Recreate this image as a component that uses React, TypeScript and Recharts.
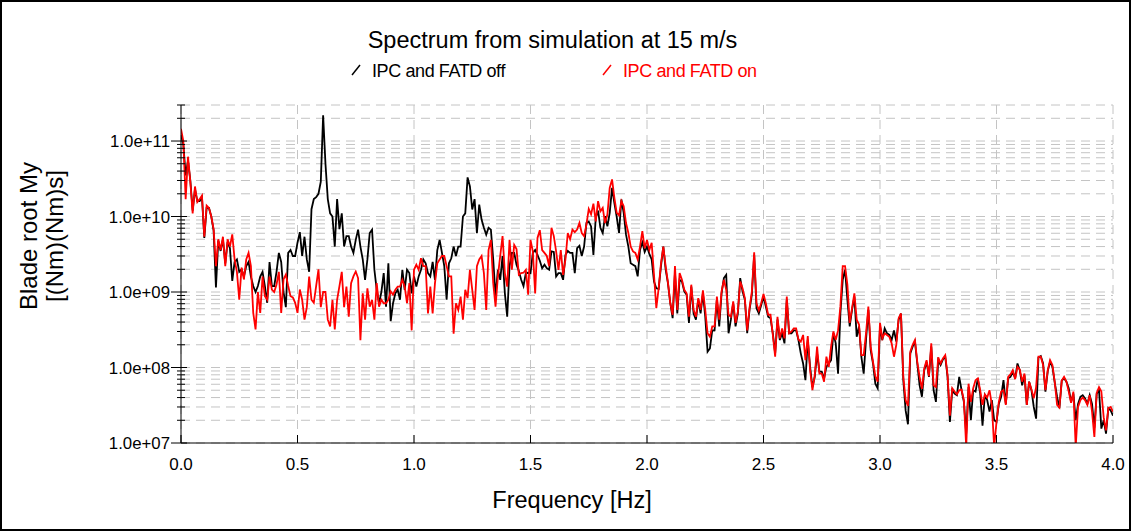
import React from "react";
import { LineChart, Line, XAxis, YAxis, CartesianGrid } from "recharts";

const FREQ_HZ = [
  0, 0.01, 0.02, 0.03, 0.04, 0.05, 0.06, 0.07, 0.08, 0.09, 0.1, 0.11, 0.12, 0.13, 0.14, 0.15, 0.16, 0.17, 0.18, 0.19,
  0.2, 0.21, 0.22, 0.23, 0.24, 0.25, 0.26, 0.27, 0.28, 0.29, 0.3, 0.31, 0.32, 0.33, 0.34, 0.35, 0.36, 0.37, 0.38, 0.39,
  0.4, 0.41, 0.42, 0.43, 0.44, 0.45, 0.46, 0.47, 0.48, 0.49, 0.5, 0.51, 0.52, 0.53, 0.54, 0.55, 0.56, 0.57, 0.58, 0.59,
  0.6, 0.61, 0.62, 0.63, 0.64, 0.65, 0.66, 0.67, 0.68, 0.69, 0.7, 0.71, 0.72, 0.73, 0.74, 0.75, 0.76, 0.77, 0.78, 0.79,
  0.8, 0.81, 0.82, 0.83, 0.84, 0.85, 0.86, 0.87, 0.88, 0.89, 0.9, 0.91, 0.92, 0.93, 0.94, 0.95, 0.96, 0.97, 0.98, 0.99,
  1, 1.01, 1.02, 1.03, 1.04, 1.05, 1.06, 1.07, 1.08, 1.09, 1.1, 1.11, 1.12, 1.13, 1.14, 1.15, 1.16, 1.17, 1.18, 1.19,
  1.2, 1.21, 1.22, 1.23, 1.24, 1.25, 1.26, 1.27, 1.28, 1.29, 1.3, 1.31, 1.32, 1.33, 1.34, 1.35, 1.36, 1.37, 1.38, 1.39,
  1.4, 1.41, 1.42, 1.43, 1.44, 1.45, 1.46, 1.47, 1.48, 1.49, 1.5, 1.51, 1.52, 1.53, 1.54, 1.55, 1.56, 1.57, 1.58, 1.59,
  1.6, 1.61, 1.62, 1.63, 1.64, 1.65, 1.66, 1.67, 1.68, 1.69, 1.7, 1.71, 1.72, 1.73, 1.74, 1.75, 1.76, 1.77, 1.78, 1.79,
  1.8, 1.81, 1.82, 1.83, 1.84, 1.85, 1.86, 1.87, 1.88, 1.89, 1.9, 1.91, 1.92, 1.93, 1.94, 1.95, 1.96, 1.97, 1.98, 1.99,
  2, 2.01, 2.02, 2.03, 2.04, 2.05, 2.06, 2.07, 2.08, 2.09, 2.1, 2.11, 2.12, 2.13, 2.14, 2.15, 2.16, 2.17, 2.18, 2.19,
  2.2, 2.21, 2.22, 2.23, 2.24, 2.25, 2.26, 2.27, 2.28, 2.29, 2.3, 2.31, 2.32, 2.33, 2.34, 2.35, 2.36, 2.37, 2.38, 2.39,
  2.4, 2.41, 2.42, 2.43, 2.44, 2.45, 2.46, 2.47, 2.48, 2.49, 2.5, 2.51, 2.52, 2.53, 2.54, 2.55, 2.56, 2.57, 2.58, 2.59,
  2.6, 2.61, 2.62, 2.63, 2.64, 2.65, 2.66, 2.67, 2.68, 2.69, 2.7, 2.71, 2.72, 2.73, 2.74, 2.75, 2.76, 2.77, 2.78, 2.79,
  2.8, 2.81, 2.82, 2.83, 2.84, 2.85, 2.86, 2.87, 2.88, 2.89, 2.9, 2.91, 2.92, 2.93, 2.94, 2.95, 2.96, 2.97, 2.98, 2.99,
  3, 3.01, 3.02, 3.03, 3.04, 3.05, 3.06, 3.07, 3.08, 3.09, 3.1, 3.11, 3.12, 3.13, 3.14, 3.15, 3.16, 3.17, 3.18, 3.19,
  3.2, 3.21, 3.22, 3.23, 3.24, 3.25, 3.26, 3.27, 3.28, 3.29, 3.3, 3.31, 3.32, 3.33, 3.34, 3.35, 3.36, 3.37, 3.38, 3.39,
  3.4, 3.41, 3.42, 3.43, 3.44, 3.45, 3.46, 3.47, 3.48, 3.49, 3.5, 3.51, 3.52, 3.53, 3.54, 3.55, 3.56, 3.57, 3.58, 3.59,
  3.6, 3.61, 3.62, 3.63, 3.64, 3.65, 3.66, 3.67, 3.68, 3.69, 3.7, 3.71, 3.72, 3.73, 3.74, 3.75, 3.76, 3.77, 3.78, 3.79,
  3.8, 3.81, 3.82, 3.83, 3.84, 3.85, 3.86, 3.87, 3.88, 3.89, 3.9, 3.91, 3.92, 3.93, 3.94, 3.95, 3.96, 3.97, 3.98, 3.99,
  4,
];

// IPC and FATD off (black)
const SPEC_OFF = [
  1.2e11, 9e10, 3.5e10, 5.5e10, 3e10, 1.2e10, 2.3e10, 1.6e10, 1.6e10, 1.8e10, 5.2e9,
  1.3e10, 1.3e10, 1.0e10, 6.5e9, 1.15e9, 4.8e9, 3.5e9, 5e9, 2.4e9, 4.6e9,
  3.8e9, 1.4e9, 2.5e9, 2.7e9, 1.85e9, 2e9, 1.6e9, 2.2e9, 2.5e9, 1.6e9,
  1.2e9, 1e9, 1.2e9, 1.6e9, 1.85e9, 1.2e9, 7.2e8, 2.5e9, 1.2e9, 1.2e9,
  1.85e9, 3.3e9, 2.5e9, 1e9, 6.3e8, 3.3e9, 3.6e9, 3e9, 3e9, 4.5e9,
  6.2e9, 3e9, 5.4e9, 2.7e9, 1.85e9, 1.25e10, 1.7e10, 1.8e10, 2e10, 2.9e10,
  2.2e11, 5e10, 1.7e10, 1.1e10, 1e10, 4e9, 1.7e10, 6.8e9, 1.1e10, 4e9,
  5.5e9, 5.5e9, 4.0e9, 3.3e9, 4.9e9, 6.7e9, 4.0e9, 2.7e9, 1.45e9, 2.7e9,
  6.05e9, 6.7e9, 1.97e9, 1.07e9, 7.1e8, 1.0e9, 1.78e9, 6.4e8, 2.4e9, 4.1e8,
  7.1e8, 9.6e8, 1.07e9, 7.9e8, 1.97e9, 1.07e9, 1.97e9, 1.78e9, 9.6e8, 1.61e9,
  1.18e9, 1.61e9, 1.97e9, 2.7e9, 2.4e9, 1.78e9, 1.61e9, 2.5e9, 1.45e9, 3.6e9,
  4.9e9, 3.3e9, 2.2e9, 7.9e8, 2.4e9, 2.8e9, 4.0e9, 3.0e9, 4.0e9, 4.0e9,
  1.0e10, 1.1e10, 3.3e10, 2.5e10, 1.24e10, 1.7e10, 6.0e9, 1.44e10, 9.1e9, 7.1e9,
  5.75e9, 7.1e9, 6.7e9, 2.7e9, 8.7e8, 1.97e9, 1.45e9, 3.0e9, 9.6e8, 4.7e8,
  2.2e9, 3.3e9, 3.3e9, 2.3e9, 1.9e9, 1.45e9, 1.2e9, 1.78e9, 1.8e9, 1.78e9,
  3.3e9, 3.6e9, 3.1e9, 2.6e9, 2.07e9, 2.3e9, 2.07e9, 1.97e9, 3.45e9, 3.4e9,
  1.61e9, 1.78e9, 1.78e9, 1.45e9, 3.1e9, 3.5e9, 3.3e9, 3.3e9, 1.78e9, 3.8e9,
  4.1e9, 3.0e9, 4.0e9, 8.2e9, 8.6e9, 7.4e9, 3.1e9, 9.6e9, 1.2e10, 7.1e9,
  6.05e9, 1.01e10, 7.4e9, 1.12e10, 2.4e10, 1.51e10, 9.9e9, 6.05e9, 1.68e10, 1.12e10,
  5.75e9, 4.0e9, 2.4e9, 2.3e9, 2.2e9, 1.61e9, 3.6e9, 4.55e9, 3.4e9, 4.0e9,
  3.2e9, 2.7e9, 1.38e9, 1.12e9, 1.1e9, 2.2e9, 4.0e9, 2.0e9, 1.3e9, 7.1e8, 4.5e8,
  1.78e9, 5.2e8, 1.45e9, 1.38e9, 1.02e9, 9.2e8, 3.9e8, 1.18e9, 5.2e8,
  4.3e8, 7.9e8, 5.2e8, 9.6e8, 4.7e8, 1.62e8, 1.79e8, 3.1e8, 3.1e8, 7.9e8,
  3.5e8, 9.6e8, 1.53e9, 1.69e9, 2.84e8, 4.3e8, 7.1e8, 3.5e8, 5.2e8, 1.53e9,
  1.02e9, 7.9e8, 2.84e8, 5.8e8, 9.2e8, 3.1e9, 6.1e8, 5.2e8, 6.7e8, 8.7e8,
  6.4e8, 4.7e8, 4.5e8, 2.84e8, 1.54e8, 4.3e8, 2.31e8, 2.84e8, 2.09e8, 7.9e8,
  2.84e8, 2.84e8, 3.1e8, 3.1e8, 2.31e8, 1.54e8, 1.13e8, 6.8e7, 2.31e8, 1.02e8,
  5.5e7, 7.5e7, 1.54e8, 8.8e7, 8.8e7, 7.2e7, 1.02e8, 1.13e8, 1.25e8, 2.84e8,
  2.09e8, 8.3e7,
  5.2e8, 1.45e9, 1.97e9, 7.9e8, 3.5e8, 5.8e8, 8.7e8, 2.56e8,
  3.5e8, 1.39e8, 8.3e7, 2.31e8, 5.8e8, 1.7e8, 1.13e8, 6.1e7, 5.3e7, 3.5e8,
  2.31e8, 3.3e8, 2.84e8, 2.7e8, 2.31e8, 3.1e8, 2.2e8, 4.3e8, 5.2e8, 6.8e7,
  2.7e7, 1.77e7, 1.54e8, 1.89e8, 2.2e8, 1.13e8, 5.8e7, 4.1e7, 9.2e7, 1.19e8,
  7.5e7, 1.89e8, 5.0e7, 3.5e7, 1.25e8, 1.08e8, 1.28e8, 1.39e8, 7.5e7, 1.9e7,
  5.0e7, 4.5e7, 4.3e7, 7.5e7, 5.0e7, 3.5e7, 1.33e7, 5.5e7, 2.0e7, 5.0e7,
  4.8e7, 7.2e7, 4.5e7, 1.7e7, 4.3e7, 3.7e7, 2.6e7, 3.7e7, 2.0e7, 1.9e7,
  3.3e7, 4.1e7,
  6.8e7, 3.3e7, 7.2e7, 7.5e7, 8.8e7, 7.2e7, 1.13e8, 9.2e7,
  5.8e7, 7.9e7, 3.2e7, 6.5e7, 5.0e7, 3.0e7, 2.1e7, 1.36e8, 1.42e8, 1.13e8,
  4.8e7, 9.0e7, 1.19e8, 1.02e8, 6.3e7, 4.1e7, 2.9e7, 6.7e7, 7.2e7, 6.5e7,
  5.3e7, 3.5e7, 4.5e7, 2.0e7, 3.3e7, 4.1e7, 4.3e7, 3.9e7, 3.3e7, 4.3e7,
  3.3e7, 1.6e7, 4.5e7, 5.0e7, 1.55e7, 2.0e7, 1.33e7, 2.9e7, 2.7e7, 2.3e7,
];

// IPC and FATD on (red)
const SPEC_ON = [
  1.45e11, 1.0e11, 1.7e10, 6.2e10, 2.9e10, 1.1e10, 2.5e10, 1.55e10, 1.7e10, 1.9e10, 5.4e9,
  1.4e10, 1.3e10, 1.0e10, 6.8e9, 2.2e9, 5e9, 3.6e9, 5.4e9, 2.2e9, 5e9,
  4e9, 5.8e9, 2.7e9, 1.85e9, 7.9e8, 2.1e9, 1.47e9, 2.7e9, 3.3e9, 2.2e9,
  5.3e8, 3.2e8, 1.0e9, 5.3e8, 1.6e9, 8.8e8, 7.9e8, 1.6e9, 1.08e9, 1e9,
  1.26e9, 1.85e9, 5.3e8, 1.47e9, 1.7e9, 1.2e9, 8.8e8, 8.5e8, 7.2e8, 5.3e8,
  1.08e9, 7.9e8, 4.3e8, 6.3e8, 1.6e9, 7.9e8, 7.2e8, 1.2e9, 2e9, 6.3e8,
  1e9, 1e9, 4.3e8, 3.5e8, 7.9e8, 3.2e8, 7.9e8, 1.2e9, 1.85e9, 6.3e8,
  1.18e9, 4.7e8, 1.31e9, 1.61e9, 1.87e9, 1.53e9, 2.3e8, 9.6e8, 4.3e8, 1.12e9,
  6.4e8, 7.9e8, 4.3e8, 1.31e9, 6.4e8, 7.9e8, 7.1e8, 7.1e8, 7.9e8, 1.02e9,
  9.2e8, 1.07e9, 1.18e9, 1.18e9, 1.45e9, 1.18e9, 7.1e8, 1.31e9, 3.1e8, 1.97e9,
  2.3e9, 1.97e9, 2.8e9, 2.2e9, 2.2e9, 5.2e8, 1.18e9, 5.2e8, 1.31e9, 2.4e9,
  2.7e9, 3.0e9, 3.0e9, 2.2e9, 1.61e9, 1.61e9, 2.8e8, 7.1e8, 5.8e8, 8.7e8,
  4.3e8, 1.07e9, 8.3e8, 1.97e9, 1.07e9, 5.8e8, 2.2e9, 2.7e9, 3.0e9, 1.78e9,
  5.8e8, 3.6e9, 4.9e9, 1.31e9, 6.4e8, 1.61e9, 3.0e9, 5.5e9, 1.78e9, 1.18e9,
  4.9e9, 1.97e9, 4.2e9, 3.7e9, 1.69e9, 1.78e9, 1.8e9, 1.97e9, 9.2e8, 4.9e9,
  3.45e9, 9.6e8, 5.2e9, 6.6e9, 3.6e9, 3.3e9, 3.0e9, 2.2e9, 7.1e9, 5.5e9,
  3.45e9, 1.97e9, 3.6e9, 1.69e9, 2.7e9, 6.05e9, 5.0e9, 6.7e9, 6.2e9, 6.7e9,
  8.2e9, 6.05e9, 5.5e9, 7.8e9, 1.26e10, 1.07e10, 1.48e10, 8.6e9, 1.6e10, 1.17e10,
  1.3e10, 8.2e9, 1.06e10, 2.4e10, 3.1e10, 1.77e10, 1.12e10, 1.04e10, 1.6e10, 1.37e10,
  8.2e9, 6.05e9, 4.0e9, 3.45e9, 3.3e9, 2.7e9, 4.0e9, 6.4e9, 3.8e9, 4.9e9,
  3.6e9, 4.5e9, 1.69e9, 6.1e8, 1.12e9, 2.4e9, 4.0e9, 2.2e9, 1.33e9, 7.1e8, 5.0e8,
  2.2e9, 5.8e8, 1.78e9, 1.45e9, 1.07e9, 9.6e8, 4.7e8, 1.25e9, 5.8e8,
  4.7e8, 8.3e8, 5.8e8, 1.05e9, 5.8e8, 2.84e8, 2.56e8, 3.5e8, 3.5e8, 8.7e8,
  4.3e8, 1.02e9, 1.45e9, 1.07e9, 5.0e8, 4.7e8, 7.5e8, 3.9e8, 5.5e8, 1.38e9,
  1.12e9, 8.3e8, 3.1e8, 6.1e8, 1.02e9, 3.35e9, 7.1e8, 5.7e8, 7.1e8, 9.4e8,
  7.1e8, 5.0e8, 5.0e8, 2.7e8, 1.39e8, 4.7e8, 2.43e8, 3.3e8, 2.43e8, 8.7e8,
  2.84e8, 3.0e8, 3.3e8, 3.3e8, 2.35e8, 2.2e8, 2.7e8, 1.25e8, 2.6e8, 9.2e7,
  5.0e7, 7.9e7, 1.89e8, 8.3e7, 8.3e7, 6.5e7, 1.39e8, 1.02e8, 1.89e8, 3.0e8,
  2.31e8, 3.1e8,
  6.4e8, 2.2e9, 2.2e9, 1.25e9, 3.9e8, 6.1e8, 9.6e8, 4.3e8,
  3.7e8, 1.46e8, 1.46e8, 2.84e8, 6.4e8, 1.89e8, 1.19e8, 7.7e7, 6.5e7, 3.9e8,
  2.43e8, 2.84e8, 2.7e8, 2.56e8, 2.09e8, 1.39e8, 2.0e8, 4.5e8, 5.2e8, 7.5e7,
  3.7e7, 3.1e7, 1.62e8, 2.0e8, 2.31e8, 1.19e8, 7.5e7, 5.2e7, 9.7e7, 1.25e8,
  7.7e7, 2.09e8, 5.8e7, 5.5e7, 1.36e8, 1.13e8, 1.32e8, 1.46e8, 7.9e7, 2.3e7,
  5.3e7, 4.8e7, 4.4e7, 5.0e7, 5.1e7, 3.7e7, 8.9e6, 6.1e7, 3.5e7, 5.3e7,
  6.8e7, 7.2e7, 5.0e7, 3.2e7, 4.4e7, 4.0e7, 5.0e7, 3.2e7, 8.9e6, 1.9e7,
  3.5e7, 4.8e7,
  5.0e7, 3.2e7, 7.5e7, 8.1e7, 9.2e7, 7.0e7, 1.02e8, 9.4e7,
  6.5e7, 8.3e7, 3.2e7, 6.5e7, 5.1e7, 3.9e7, 5.5e7, 1.39e8, 1.39e8, 1.08e8,
  5.0e7, 9.2e7, 1.25e8, 1.08e8, 6.4e7, 3.2e7, 2.95e7, 6.7e7, 7.5e7, 6.5e7,
  4.8e7, 3.4e7, 4.8e7, 8.9e6, 3.0e7, 3.7e7, 4.0e7, 3.7e7, 3.2e7, 4.3e7,
  2.6e7, 1.2e7, 4.6e7, 5.5e7, 4.8e7, 2.2e7, 1.47e7, 2.9e7, 3.0e7, 2.6e7,
];

const Y_TICKS = [
  1e7, 2e7, 3e7, 4e7, 5e7, 6e7, 7e7, 8e7, 9e7,
  1e8, 2e8, 3e8, 4e8, 5e8, 6e8, 7e8, 8e8, 9e8,
  1e9, 2e9, 3e9, 4e9, 5e9, 6e9, 7e9, 8e9, 9e9,
  1e10, 2e10, 3e10, 4e10, 5e10, 6e10, 7e10, 8e10, 9e10,
  1e11, 2e11, 3e11,
];
const Y_MAJOR = [1e7, 1e8, 1e9, 1e10, 1e11];
const Y_MAJOR_LABELS = ["1.0e+07", "1.0e+08", "1.0e+09", "1.0e+10", "1.0e+11"];
const X_TICKS = [0, 0.5, 1, 1.5, 2, 2.5, 3, 3.5, 4];
const X_TICK_LABELS = ["0.0", "0.5", "1.0", "1.5", "2.0", "2.5", "3.0", "3.5", "4.0"];

const TITLE = "Spectrum from simulation at 15 m/s";
const SERIES_OFF_NAME = "IPC and FATD off";
const SERIES_ON_NAME = "IPC and FATD on";
const Y_LABEL_1 = "Blade root My";
const Y_LABEL_2 = "[(Nm)(Nm)s]";
const X_LABEL = "Frequency [Hz]";

const FONT = '"Liberation Sans", Arial, Helvetica, sans-serif';
const W = 1131;
const H = 531;

const rows = FREQ_HZ.map((f, i) => ({ f, off: SPEC_OFF[i], on: SPEC_ON[i] }));

const YTick = (props: any) => {
  const { x, y, payload } = props;
  const idx = Y_MAJOR.indexOf(payload.value);
  const major = idx >= 0;
  return (
    <g>
      <line x1={x - (major ? 10 : 4)} x2={x + (major ? 6 : 4)} y1={y} y2={y} stroke="#000" strokeWidth={1} />
      {major && (
        <text x={x - 11} y={y} dy="0.36em" textAnchor="end" fontFamily={FONT} fontSize={16.8} fill="#000">
          {Y_MAJOR_LABELS[idx]}
        </text>
      )}
    </g>
  );
};

const XTick = (props: any) => {
  const { x, y, payload } = props;
  const idx = X_TICKS.indexOf(payload.value);
  return (
    <g>
      <line x1={x} x2={x} y1={y} y2={y - 8} stroke="#000" strokeWidth={1} />
      <text x={x} y={y + 27} textAnchor="middle" fontFamily={FONT} fontSize={17} fill="#000">
        {idx >= 0 ? X_TICK_LABELS[idx] : ""}
      </text>
    </g>
  );
};

export default function App() {
  return (
    <div style={{ position: "absolute", left: 0, top: 0, width: W, height: H, background: "#fff" }}>
      <LineChart width={W} height={H} data={rows} margin={{ top: 105, right: 18, left: 121, bottom: 58 }}>
        <CartesianGrid stroke="#c4c4c4" strokeDasharray="9 6" strokeWidth={1} />
        <XAxis
          dataKey="f"
          type="number"
          domain={[0, 4]}
          ticks={X_TICKS}
          interval={0}
          height={30}
          tickSize={0}
          tickMargin={0}
          tick={<XTick />}
          axisLine={{ stroke: "#000", strokeWidth: 1 }}
          tickLine={false}
          allowDataOverflow
        />
        <YAxis
          type="number"
          scale="log"
          domain={[1e7, 3e11]}
          ticks={Y_TICKS}
          interval={0}
          width={60}
          tickSize={0}
          tickMargin={0}
          tick={<YTick />}
          axisLine={{ stroke: "#000", strokeWidth: 1 }}
          tickLine={false}
          allowDataOverflow
        />
        <Line type="linear" dataKey="off" stroke="#000000" strokeWidth={1.8} dot={false} isAnimationActive={false} />
        <Line type="linear" dataKey="on" stroke="#ff0000" strokeWidth={1.8} dot={false} isAnimationActive={false} />
      </LineChart>
      <svg width={W} height={H} style={{ position: "absolute", left: 0, top: 0, pointerEvents: "none" }}>
        <rect x={1} y={1} width={W - 2} height={H - 2} fill="none" stroke="#000" strokeWidth={2} />
        <text x={552.5} y={48} textAnchor="middle" fontFamily={FONT} fontSize={23.5} fill="#000">
          {TITLE}
        </text>
        <line x1={352} y1={75} x2={360} y2={65} stroke="#000" strokeWidth={1.5} />
        <text x={372} y={76.5} fontFamily={FONT} fontSize={18} letterSpacing={-0.4} fill="#000">
          {SERIES_OFF_NAME}
        </text>
        <line x1={603} y1={75} x2={611} y2={65} stroke="#ff0000" strokeWidth={1.5} />
        <text x={623} y={76.5} fontFamily={FONT} fontSize={18} letterSpacing={-0.4} fill="#ff0000">
          {SERIES_ON_NAME}
        </text>
        <text x={37} y={236} transform="rotate(-90, 37, 236)" textAnchor="middle" fontFamily={FONT} fontSize={24} fill="#000">
          {Y_LABEL_1}
        </text>
        <text x={63} y={236} transform="rotate(-90, 63, 236)" textAnchor="middle" fontFamily={FONT} fontSize={24} fill="#000">
          {Y_LABEL_2}
        </text>
        <text x={572} y={508} textAnchor="middle" fontFamily={FONT} fontSize={23.5} fill="#000">
          {X_LABEL}
        </text>
      </svg>
    </div>
  );
}
